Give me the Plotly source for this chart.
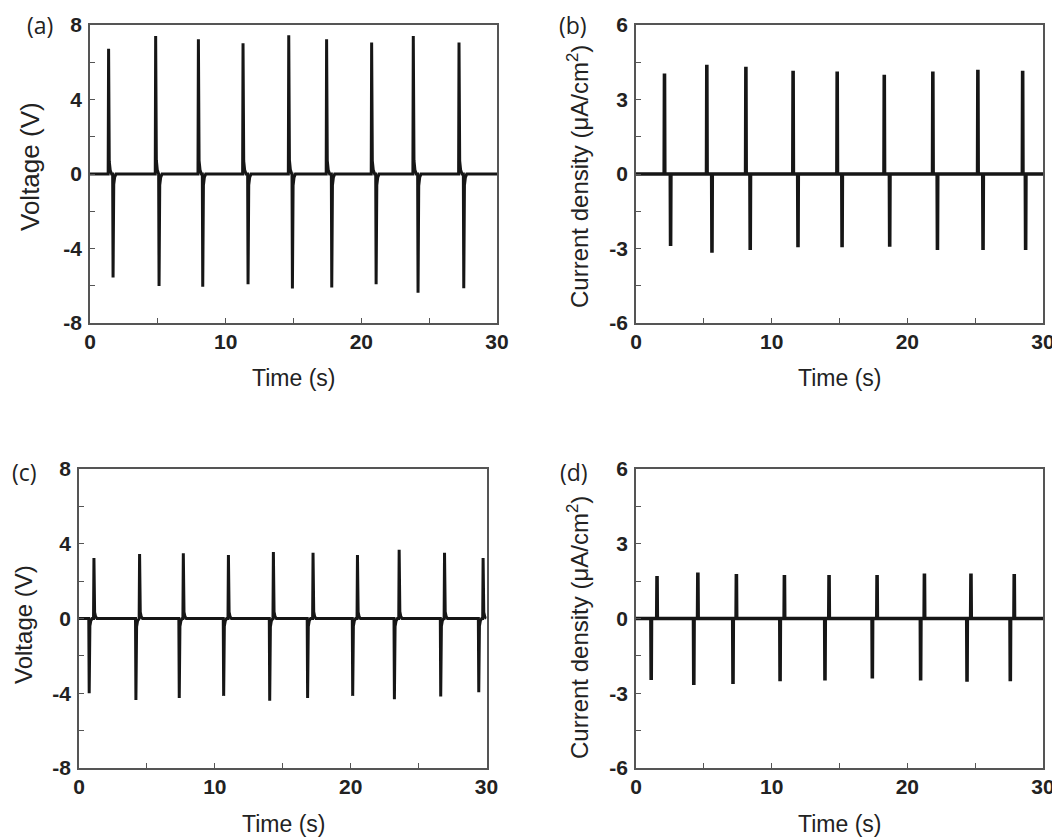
import plotly.graph_objects as go

# ---------------- data ----------------
x_ticks = [0, 10, 20, 30]
x_minor = [5, 15, 25]

# (a) voltage, first setting
a_pos_t = [1.37, 4.84, 7.99, 11.28, 14.65, 17.44, 20.76, 23.83, 27.20]
a_pos_v = [6.73, 7.41, 7.23, 7.02, 7.45, 7.23, 7.06, 7.41, 7.06]
a_neg_t = [1.70, 5.09, 8.31, 11.65, 14.92, 17.82, 21.09, 24.18, 27.55]
a_neg_v = [-5.56, -6.01, -6.05, -5.92, -6.15, -6.10, -5.92, -6.37, -6.13]

# (b) current density, first setting
b_pos_t = [2.10, 5.22, 8.10, 11.58, 14.83, 18.30, 21.88, 25.20, 28.50]
b_pos_v = [4.05, 4.40, 4.32, 4.16, 4.13, 4.00, 4.13, 4.20, 4.16]
b_neg_t = [2.55, 5.60, 8.42, 11.94, 15.19, 18.70, 22.22, 25.58, 28.72]
b_neg_v = [-2.90, -3.17, -3.06, -2.95, -2.95, -2.93, -3.06, -3.06, -3.06]

# (c) voltage, second setting
c_neg_t = [0.75, 4.19, 7.38, 10.65, 14.04, 16.83, 20.15, 23.22, 26.63, 29.43]
c_neg_v = [-4.00, -4.36, -4.25, -4.14, -4.40, -4.25, -4.14, -4.32, -4.18, -3.95]
c_pos_t = [1.10, 4.46, 7.68, 11.00, 14.31, 17.23, 20.50, 23.57, 26.91, 29.75]
c_pos_v = [3.24, 3.45, 3.49, 3.40, 3.56, 3.52, 3.40, 3.68, 3.52, 3.24]

# (d) current density, second setting
d_neg_t = [1.12, 4.26, 7.15, 10.62, 13.93, 17.42, 20.98, 24.40, 27.59]
d_neg_v = [-2.47, -2.67, -2.63, -2.52, -2.49, -2.41, -2.49, -2.54, -2.52]
d_pos_t = [1.55, 4.56, 7.40, 10.94, 14.23, 17.77, 21.26, 24.69, 27.88]
d_pos_v = [1.71, 1.85, 1.79, 1.75, 1.75, 1.75, 1.81, 1.81, 1.79]

# ---------------- pulse shape templates (dt, fraction of peak) ----------------
VOLT_SHAPE = [(-0.03, 0.0), (0.0, 1.0), (0.05, 0.10), (0.12, 0.03), (0.22, 0.0)]
CURR_SHAPE = [(-0.02, 0.0), (0.0, 1.0), (0.02, 0.0)]


def build_wave(times_a, vals_a, times_b, vals_b, shape, t_end=30.0):
    events = sorted(list(zip(times_a, vals_a)) + list(zip(times_b, vals_b)))
    pts = [(0.0, 0.0)]
    for t, v in events:
        for dt, f in shape:
            pts.append((t + dt, v * f))
    pts.append((t_end, 0.0))
    pts.sort(key=lambda p: p[0])
    return [p[0] for p in pts], [p[1] for p in pts]


LINE_COLOR = "#161616"
FRAME = "#555555"

fig = go.Figure()

panels = [
    ("x", "y", a_pos_t, a_pos_v, a_neg_t, a_neg_v, VOLT_SHAPE, 3.0),
    ("x2", "y2", b_pos_t, b_pos_v, b_neg_t, b_neg_v, CURR_SHAPE, 3.6),
    ("x3", "y3", c_neg_t, c_neg_v, c_pos_t, c_pos_v, VOLT_SHAPE, 3.0),
    ("x4", "y4", d_neg_t, d_neg_v, d_pos_t, d_pos_v, CURR_SHAPE, 3.6),
]
for xa, ya, t1, v1, t2, v2, shp, lw in panels:
    xs, ys = build_wave(t1, v1, t2, v2, shp)
    fig.add_trace(go.Scatter(x=xs, y=ys, mode="lines", xaxis=xa, yaxis=ya,
                             line=dict(color=LINE_COLOR, width=lw),
                             showlegend=False, hoverinfo="skip"))

# page body has an 8 px margin: size figure to fit the window exactly
OFF = 8
W, H = 1060 - OFF, 839 - OFF
tick_font = dict(family="Liberation Sans, Arial, sans-serif", size=21,
                 color="#222222", weight="bold")


def px(x):
    return (x - OFF) / W


def py(y):
    return 1 - (y - OFF) / H


def xaxis(left, right, anchor):
    return dict(domain=[px(left), px(right)], anchor=anchor, range=[0, 30],
                tickvals=x_ticks, ticktext=[str(v) for v in x_ticks],
                ticks="inside", ticklen=5, tickwidth=1, tickcolor=FRAME,
                minor=dict(tickvals=x_minor, ticks="inside", ticklen=5,
                           tickwidth=1, tickcolor=FRAME),
                showline=True, linecolor=FRAME, linewidth=1.5, mirror=True,
                showgrid=False, zeroline=False, tickfont=tick_font,
                ticklabelstandoff=-1, automargin=False)


def yaxis(top, bottom, anchor, lim):
    major = [-lim, -lim / 2, 0, lim / 2, lim]
    minor_v = [-0.75 * lim, -0.25 * lim, 0.25 * lim, 0.75 * lim]
    return dict(domain=[py(bottom), py(top)], anchor=anchor,
                range=[-lim, lim], tickvals=major,
                ticktext=[("%g" % v) for v in major],
                ticks="inside", ticklen=5, tickwidth=1, tickcolor=FRAME,
                minor=dict(tickvals=minor_v, ticks="inside", ticklen=5,
                           tickwidth=1, tickcolor=FRAME),
                showline=True, linecolor=FRAME, linewidth=1.5, mirror=True,
                showgrid=False, zeroline=False, tickfont=tick_font,
                ticklabelstandoff=2, automargin=False)


fig.update_layout(
    template="none",
    width=W, height=H, margin=dict(l=0, r=0, t=0, b=0, pad=0, autoexpand=False),
    paper_bgcolor="white", plot_bgcolor="white",
    xaxis=xaxis(90, 497, "y"), yaxis=yaxis(25, 323, "x", 8),
    xaxis2=xaxis(636, 1043, "y2"), yaxis2=yaxis(25, 323, "x2", 6),
    xaxis3=xaxis(79, 486.5, "y3"), yaxis3=yaxis(469, 768, "x3", 8),
    xaxis4=xaxis(636, 1043, "y4"), yaxis4=yaxis(469, 768, "x4", 6),
)


def tfont(size):
    return dict(family="Liberation Sans, Arial, sans-serif", size=size, color="#222222")


label_font = dict(family="Open Sans, sans-serif", size=23, color="#222222")


def ann(text, x, y, font, angle=0):
    fig.add_annotation(text=text, x=px(x), y=py(y), xref="paper", yref="paper",
                       showarrow=False, font=font, textangle=angle,
                       xanchor="center", yanchor="middle")


# panel labels
ann("(a)", 40, 25, label_font)
ann("(b)", 573, 25, label_font)
ann("(c)", 24, 472, label_font)
ann("(d)", 574, 472, label_font)

# x titles
ann("Time (s)", 293, 378, tfont(23))
ann("Time (s)", 839, 378, tfont(23))
ann("Time (s)", 283, 824, tfont(23))
ann("Time (s)", 839, 824, tfont(23))

# y titles
ann("Voltage (V)", 30, 167, tfont(26), -90)
ann("Current density (μA/cm<sup>2</sup>)", 578, 177, tfont(24), -90)
ann("Voltage (V)", 23, 625, tfont(24), -90)
ann("Current density (μA/cm<sup>2</sup>)", 578, 628, tfont(24), -90)

fig.write_html("out.html")
